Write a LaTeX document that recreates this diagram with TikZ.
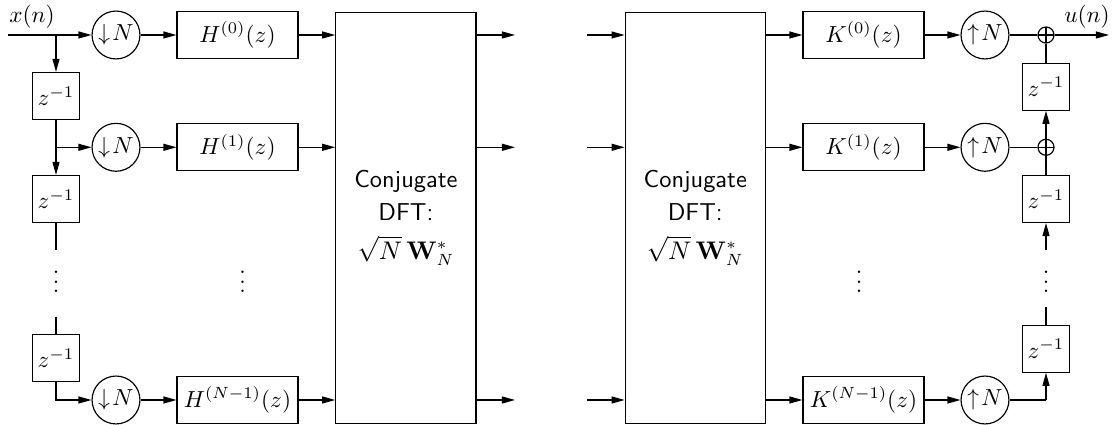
\documentclass[tikz,border=0pt]{standalone}
\usetikzlibrary{arrows.meta}
\begin{document}
\begin{tikzpicture}[x=0.43pt,y=-0.43pt, line width=0.5pt,
  >={Triangle[length=5.6pt,width=3pt]},
  blk/.style={draw, minimum width=52pt, minimum height=20.2pt, inner sep=0pt},
  dly/.style={draw, minimum width=20.2pt, minimum height=20.2pt, inner sep=0pt},
  rate/.style={draw, circle, minimum size=20.6pt, inner sep=0pt},
  adder/.style={draw, circle, minimum size=6.9pt, inner sep=0pt,
    path picture={\draw (path picture bounding box.north) -- (path picture bounding box.south)
      (path picture bounding box.west) -- (path picture bounding box.east);}},
  dft/.style={draw, minimum width=60.3pt, minimum height=176.7pt, inner sep=0pt,
    align=center, font=\sffamily\fontsize{10.5}{14.5}\selectfont},
  lbl/.style={inner sep=0pt}]
\useasboundingbox (0,0) rectangle (1112,425);

% ---------------- analysis side ----------------
\coordinate (xin) at (8,35);
\node[lbl] (xlab) at (32,17) {$x(n)$};
\coordinate (b0) at (56,35);
\coordinate (b1) at (56,147.3);
\coordinate (b2) at (56,400);
\coordinate (dl1) at (56,250);
\coordinate (dl2) at (56,316.7);

\node[dly] (zl1) at (56,96) {$z^{-1}$};
\node[dly] (zl2) at (56,199) {$z^{-1}$};
\node[dly] (zl3) at (56,358) {$z^{-1}$};
\node[lbl] (vl) at (56,275) {$\vdots$};

\node[rate] (d0) at (116,35) {$\downarrow\! N$};
\node[rate] (d1) at (116,147.3) {$\downarrow\! N$};
\node[rate] (d2) at (116,400) {$\downarrow\! N$};

\node[blk] (h0) at (237.5,35) {$H^{(0)}(z)$};
\node[blk] (h1) at (237.5,147.3) {$H^{(1)}(z)$};
\node[blk] (h2) at (237.5,400) {$H^{(N-1)}(z)$};
\node[lbl] (vh) at (242.7,275) {$\vdots$};

\node[dft] (f1) at (405.9,217.7) {Conjugate\\DFT:\\[2pt]$\sqrt{N}\,\mathbf{W}_N^*$};

\coordinate (o0) at (515,35);
\coordinate (o1) at (515,147.3);
\coordinate (o2) at (515,400);

% delay chain
\draw[->] (xin) -- (d0);
\draw[->] (b0) -- (zl1);
\draw[->] (zl1) -- (zl2);
\draw[->] (b1) -- (d1);
\draw (zl2) -- (dl1);
\draw (dl2) -- (zl3);
\draw[->] (zl3) |- (d2);

% branches
\draw[->] (d0) -- (h0);
\draw[->] (d1) -- (h1);
\draw[->] (d2) -- (h2);
\draw[->] (h0) -- (h0 -| f1.west);
\draw[->] (h1) -- (h1 -| f1.west);
\draw[->] (h2) -- (h2 -| f1.west);
\draw[->] (f1.east |- o0) -- (o0);
\draw[->] (f1.east |- o1) -- (o1);
\draw[->] (f1.east |- o2) -- (o2);

% ---------------- synthesis side ----------------
\coordinate (i0) at (587,35);
\coordinate (i1) at (587,147.3);
\coordinate (i2) at (587,400);

\node[dft] (f2) at (695.3,217.7) {Conjugate\\DFT:\\[2pt]$\sqrt{N}\,\mathbf{W}_N^*$};

\node[blk] (k0) at (863.5,35) {$K^{(0)}(z)$};
\node[blk] (k1) at (863.5,147.3) {$K^{(1)}(z)$};
\node[blk] (k2) at (863.5,400) {$K^{(N-1)}(z)$};
\node[lbl] (vk) at (859,275) {$\vdots$};

\node[rate] (u0) at (985,35) {$\uparrow\! N$};
\node[rate] (u1) at (985,147.3) {$\uparrow\! N$};
\node[rate] (u2) at (985,400) {$\uparrow\! N$};

\node[adder] (s0) at (1046,35) {};
\node[adder] (s1) at (1046,147.3) {};
\coordinate (c2) at (1046,400);

\node[dly] (zr1) at (1046,86.7) {$z^{-1}$};
\node[dly] (zr2) at (1046,199) {$z^{-1}$};
\node[dly] (zr3) at (1046,348.7) {$z^{-1}$};
\node[lbl] (vr) at (1046,275) {$\vdots$};
\coordinate (dr1) at (1046,250);
\coordinate (dr2) at (1046,306.7);

\coordinate (yout) at (1109,35);
\node[lbl] (ulab) at (1087,17) {$u(n)$};

\draw[->] (i0) -- (i0 -| f2.west);
\draw[->] (i1) -- (i1 -| f2.west);
\draw[->] (i2) -- (i2 -| f2.west);
\draw[->] (f2.east |- k0) -- (k0);
\draw[->] (f2.east |- k1) -- (k1);
\draw[->] (f2.east |- k2) -- (k2);
\draw[->] (k0) -- (u0);
\draw[->] (k1) -- (u1);
\draw[->] (k2) -- (u2);
\draw (u0) -- (s0);
\draw (u1) -- (s1);
\draw (u2) -- (c2);
\draw[->] (s0) -- (yout);

% delay chain (upward)
\draw (zr1) -- (s0);
\draw[->] (s1) -- (zr1);
\draw (zr2) -- (s1);
\draw[->] (dr1) -- (zr2);
\draw (zr3) -- (dr2);
\draw[->] (c2) -- (zr3);
\end{tikzpicture}
\end{document}
